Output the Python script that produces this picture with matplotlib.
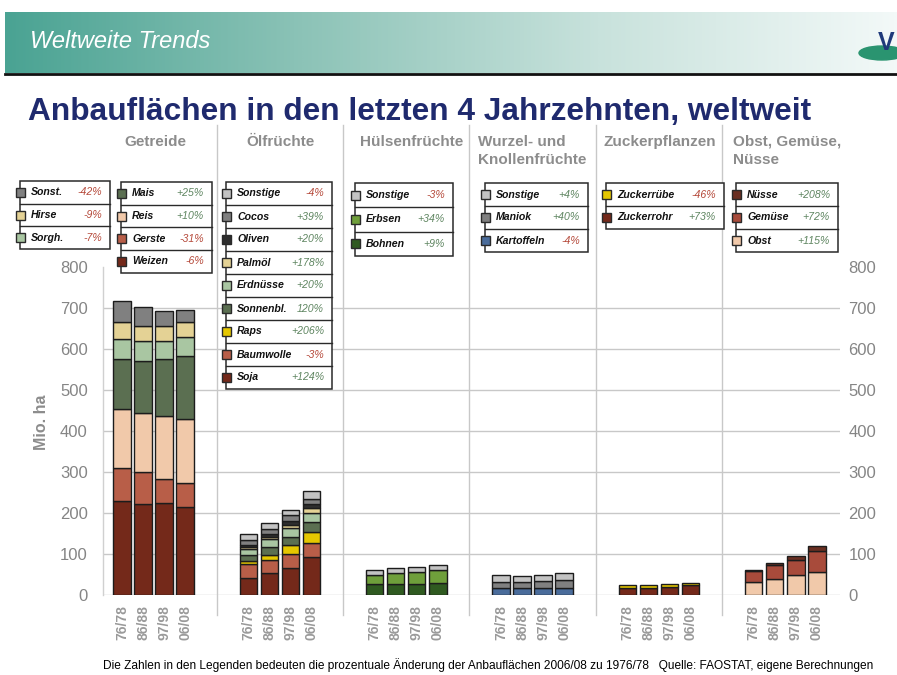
import matplotlib
matplotlib.use("Agg")
import matplotlib.pyplot as plt
import numpy as np
from matplotlib.patches import Rectangle, Ellipse
from matplotlib.colors import LinearSegmentedColormap

plt.rcParams['font.family'] = ['Liberation Sans', 'DejaVu Sans']

# ---------------- data ----------------
periods = ["76/78", "86/88", "97/98", "06/08"]
groups = ["Getreide", "Ölfrüchte", "Hülsenfrüchte", "Wurzel- und\nKnollenfrüchte",
          "Zuckerpflanzen", "Obst, Gemüse,\nNüsse"]

# Getreide (bottom -> top)
weizen = [230, 222, 224, 215]
gerste = [79, 77, 60, 58]
reis = [145, 144, 153, 156]
mais = [122, 128, 138, 154]
sorghum = [49, 49, 45, 46]
hirse = [40, 37, 37, 37]
getreide_sonst = [53, 46, 36, 28]

# Ölfrüchte (bottom -> top)
soja = [41, 53, 65, 93]
baumwolle = [34, 33, 34, 33]
raps = [8, 12, 22, 28]
sonnenblumen = [14, 18, 20, 24]
erdnuesse = [16, 21, 23, 23]
palmoel = [5, 4, 7, 12]
oliven = [5, 8, 10, 8]
cocos = [10, 12, 13, 14]
oel_sonst = [15, 15, 14, 18]

# Hülsenfrüchte
bohnen = [28, 28, 28, 30]
erbsen = [21, 26, 28, 31]
huelsen_sonst = [12, 13, 12, 11]

# Wurzel- und Knollenfrüchte
kartoffeln = [16, 16, 16, 16]
maniok = [15, 15, 18, 20]
wurzel_sonst = [17, 15, 14, 18]

# Zuckerpflanzen
zuckerrohr = [16, 17, 19, 24]
zuckerruebe = [8, 7, 7, 6]

# Obst, Gemüse, Nüsse
obst = [32, 40, 49, 56]
gemuese = [26, 34, 37, 52]
nuesse = [4, 4, 8, 11]

# colours
C_WEIZEN = "#74291a"; C_GERSTE = "#b85e48"; C_REIS = "#f1c9aa"; C_MAIS = "#5b6f51"
C_SORGH = "#a9c6a2"; C_HIRSE = "#e4d295"; C_SONST = "#808080"; C_LGRAY = "#c3c3c3"
C_OLIV = "#2e2e2e"; C_RAPS = "#e5c700"; C_ERBSEN = "#6f9f3b"; C_BOHNEN = "#2f5a20"
C_KART = "#4a6c9b"; C_NUSS = "#6a2f22"; C_GEM = "#a84b3b"

stacks = [
    [(weizen, C_WEIZEN), (gerste, C_GERSTE), (reis, C_REIS), (mais, C_MAIS),
     (sorghum, C_SORGH), (hirse, C_HIRSE), (getreide_sonst, C_SONST)],
    [(soja, C_WEIZEN), (baumwolle, C_GERSTE), (raps, C_RAPS), (sonnenblumen, C_MAIS),
     (erdnuesse, C_SORGH), (palmoel, C_HIRSE), (oliven, C_OLIV), (cocos, C_SONST),
     (oel_sonst, C_LGRAY)],
    [(bohnen, C_BOHNEN), (erbsen, C_ERBSEN), (huelsen_sonst, C_LGRAY)],
    [(kartoffeln, C_KART), (maniok, C_SONST), (wurzel_sonst, C_LGRAY)],
    [(zuckerrohr, C_WEIZEN), (zuckerruebe, C_RAPS)],
    [(obst, C_REIS), (gemuese, C_GEM), (nuesse, C_NUSS)],
]

NEG = "#b5493a"; POS = "#5e8560"
legends = [
    # (x0, x1, y0, row height, [(label, colour, pct)])
    (20, 110, 181, 22.7, [("Sonst.", C_SONST, "-42%"), ("Hirse", C_HIRSE, "-9%"),
                          ("Sorgh.", C_SORGH, "-7%")]),
    (121, 212, 182, 22.7, [("Mais", C_MAIS, "+25%"), ("Reis", C_REIS, "+10%"),
                           ("Gerste", C_GERSTE, "-31%"), ("Weizen", C_WEIZEN, "-6%")]),
    (226, 332, 182, 23.0, [("Sonstige", C_LGRAY, "-4%"), ("Cocos", C_SONST, "+39%"),
                           ("Oliven", C_OLIV, "+20%"), ("Palmöl", C_HIRSE, "+178%"),
                           ("Erdnüsse", C_SORGH, "+20%"), ("Sonnenbl.", C_MAIS, "120%"),
                           ("Raps", C_RAPS, "+206%"), ("Baumwolle", C_GERSTE, "-3%"),
                           ("Soja", C_WEIZEN, "+124%")]),
    (355, 453, 183, 24.3, [("Sonstige", C_LGRAY, "-3%"), ("Erbsen", C_ERBSEN, "+34%"),
                           ("Bohnen", C_BOHNEN, "+9%")]),
    (485, 588, 183, 23.0, [("Sonstige", C_LGRAY, "+4%"), ("Maniok", C_SONST, "+40%"),
                           ("Kartoffeln", C_KART, "-4%")]),
    (606, 724, 183, 23.0, [("Zuckerrübe", C_RAPS, "-46%"), ("Zuckerrohr", C_WEIZEN, "+73%")]),
    (736, 838, 183, 23.0, [("Nüsse", C_NUSS, "+208%"), ("Gemüse", C_GEM, "+72%"),
                           ("Obst", C_REIS, "+115%")]),
]

# ---------------- figure ----------------
W, H = 897, 675
fig = plt.figure(figsize=(W / 100, H / 100), dpi=100)
fig.patch.set_facecolor("white")

ax = fig.add_axes([103 / W, 1 - 595 / H, 737 / W, (595 - 267) / H])
ax.set_xlim(-0.9, 34.1)
ax.set_ylim(0, 800)
for s in ax.spines.values():
    s.set_visible(False)
ax.set_facecolor("none")

for yv in range(0, 800, 100):
    ax.axhline(yv, color="#c8c8c8", lw=1, zorder=0)

xpos_all = []
for g, stack in enumerate(stacks):
    xs = np.arange(4) + 6 * g
    xpos_all.extend(xs)
    bottom = np.zeros(4)
    for vals, col in stack:
        v = np.array(vals, dtype=float)
        ax.bar(xs, v, bottom=bottom, width=0.83, color=col, edgecolor="#1c1c1c",
               linewidth=1.0, zorder=3)
        bottom += v
    if g < len(stacks) - 1:
        sep = 6 * g + 4.5
        ax.plot([sep, sep], [-0.061, 1.433], transform=ax.get_xaxis_transform(),
                color="#c8c8c8", lw=1, clip_on=False, zorder=1)
ax.plot([-0.9, -0.9], [0, 1.0], transform=ax.get_xaxis_transform(),
        color="#d0d0d0", lw=1, clip_on=False, zorder=1)

ax.set_xticks(xpos_all)
ax.set_xticklabels(periods * len(stacks), rotation=90, fontsize=10,
                   color="#9a9a9a", fontweight="bold")
ax.tick_params(axis="x", length=0, pad=7)
ax.set_yticks(range(0, 900, 100))
ax.tick_params(axis="y", length=0, pad=11, labelsize=12, labelcolor="#858585")

ax2 = ax.twinx()
ax2.set_ylim(0, 800)
ax2.set_yticks(range(0, 900, 100))
ax2.tick_params(axis="y", length=0, pad=6, labelsize=12, labelcolor="#858585")
for s in ax2.spines.values():
    s.set_visible(False)

fig.text(41 / W, 1 - 422 / H, "Mio. ha", rotation=90, ha="center", va="center",
         fontsize=11.5, fontweight="bold", color="#8c8c8c")

# ---------------- overlay (header, titles, legends) ----------------
ov = fig.add_axes([0, 0, 1, 1], zorder=10)
ov.set_xlim(0, W)
ov.set_ylim(H, 0)
ov.axis("off")
ov.patch.set_visible(False)

cmap = LinearSegmentedColormap.from_list("band", ["#4aa393", "#8cc3b7", "#c8e2dc", "#f3f9f8"])
grad = np.linspace(0, 1, 512).reshape(1, -1)
ov.imshow(grad, cmap=cmap, extent=(5, W, 73, 12), aspect="auto", zorder=1)
ov.plot([5, W], [74, 74], color="#111111", lw=2, zorder=2)
ov.text(30, 42, "Weltweite Trends", color="white", fontsize=17, style="italic",
        va="center", ha="left", zorder=3)
ov.add_patch(Ellipse((882, 53), 46, 14, color="#2a9470", zorder=3))
ov.text(878, 43, "V", color="#1f3a7a", fontsize=18, fontweight="bold",
        va="center", ha="left", zorder=4)

ov.text(28, 112, "Anbauflächen in den letzten 4 Jahrzehnten, weltweit", color="#1f2a6e",
        fontsize=22.8, fontweight="bold", va="center", ha="left")

title_x = [124, 246, 360, 478, 604, 733]
for tx, gname in zip(title_x, groups):
    ov.text(tx, 135, gname, fontsize=11, fontweight="bold", color="#8c8c8c",
            va="top", ha="left", linespacing=1.35)

for x0, x1, y0, rh, items in legends:
    n = len(items)
    ov.add_patch(Rectangle((x0, y0), x1 - x0, rh * n, facecolor="white",
                           edgecolor="#2a2a2a", lw=1.1, zorder=5))
    for k, (lab, col, pct) in enumerate(items):
        yc = y0 + rh * (k + 0.5)
        if k > 0:
            ov.plot([x0, x1], [y0 + rh * k, y0 + rh * k], color="#2a2a2a", lw=1, zorder=6)
        ov.add_patch(Rectangle((x0 - 4.5, yc - 4.5), 9, 9, facecolor=col,
                               edgecolor="#2a2a2a", lw=1, zorder=7))
        ov.text(x0 + 11, yc, lab, fontsize=7.6, fontweight="bold", style="italic",
                color="#111111", va="center", ha="left", zorder=7)
        ov.text(x1 - 8, yc, pct, fontsize=7.6, style="italic",
                color=NEG if pct.startswith("-") else POS, va="center", ha="right", zorder=7)

ov.text(103, 665, "Die Zahlen in den Legenden bedeuten die prozentuale Änderung der "
        "Anbauflächen 2006/08 zu 1976/78   Quelle: FAOSTAT, eigene Berechnungen",
        fontsize=8.55, color="black", va="center", ha="left")

fig.savefig("out.png", dpi=100, facecolor="white")
